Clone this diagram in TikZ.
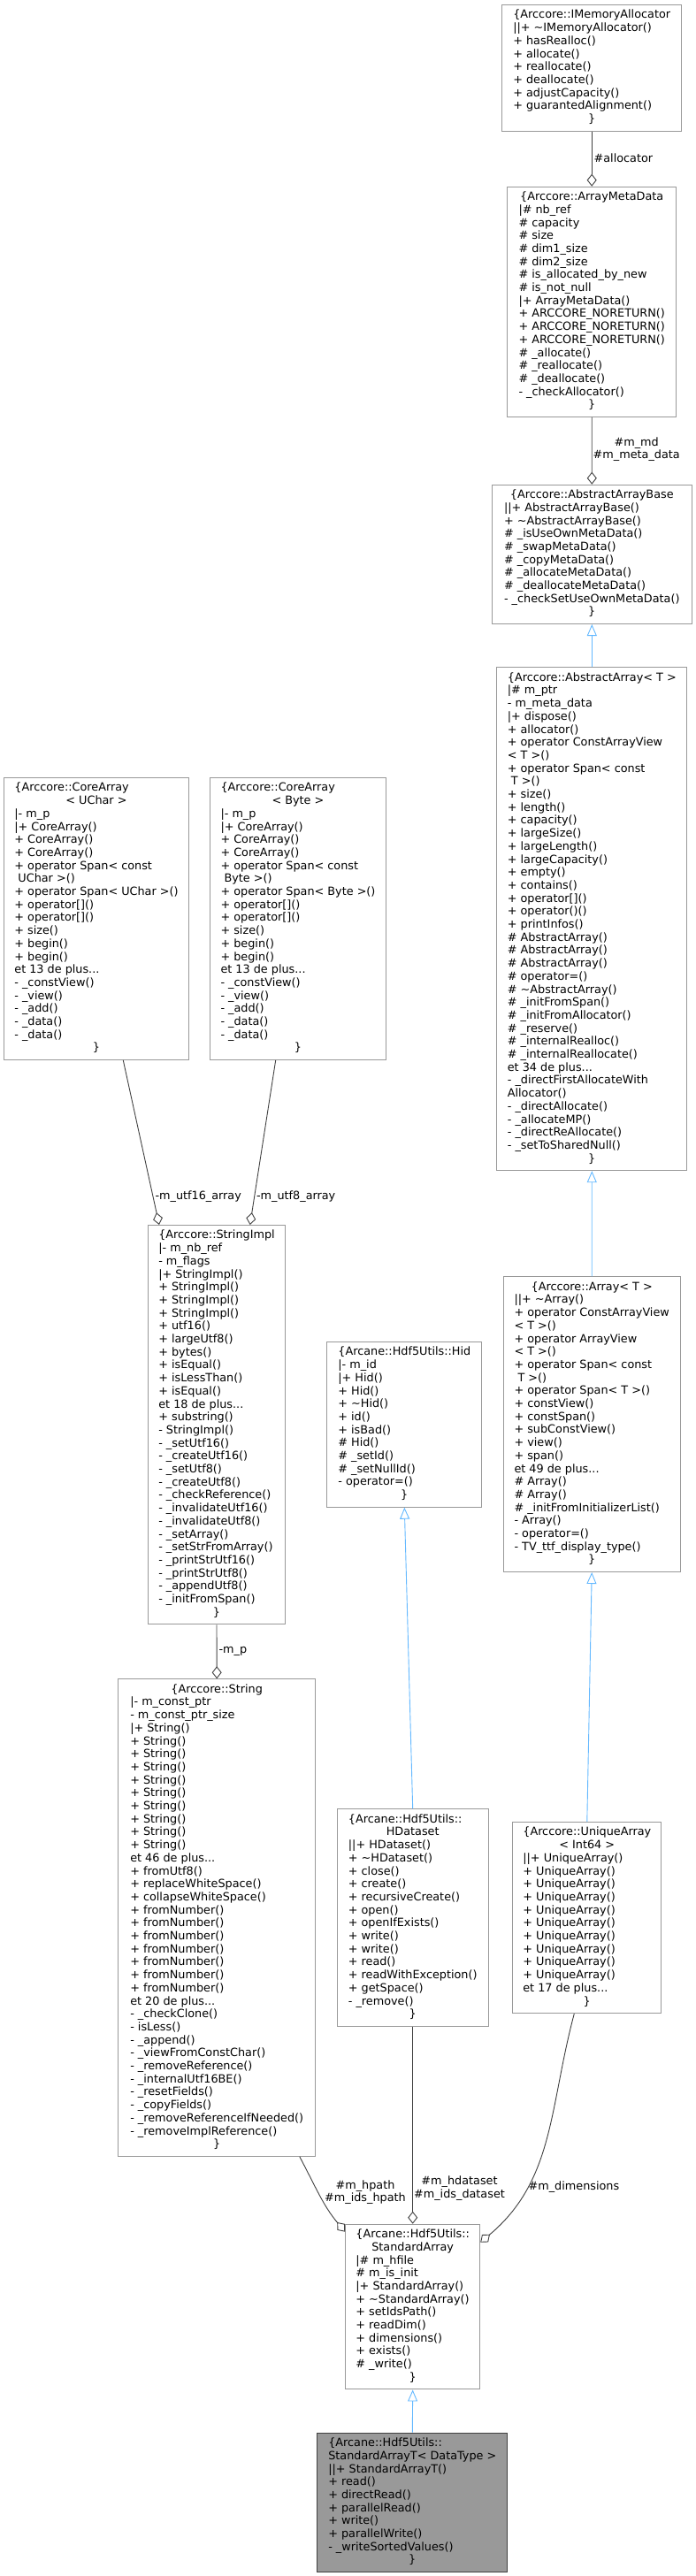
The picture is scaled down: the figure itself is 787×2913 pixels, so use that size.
\documentclass[tikz,border=0pt]{standalone}
\usepackage{fontspec}
\setmainfont{DejaVu Sans}
\usetikzlibrary{arrows.meta}

\definecolor{edgegrey}{HTML}{404040}
\definecolor{boxgrey}{HTML}{999999}
\definecolor{inhblue}{HTML}{63B8FF}

% centered line and member list of a class box
\newcommand{\ctr}[1]{\multicolumn{1}{@{}c@{}}{#1}}
\newcommand{\members}[1]{\begin{tabular}{@{}l@{}}#1\end{tabular}}

\tikzset{
  cls/.style={draw=boxgrey, line width=1pt, fill=white, anchor=north,
    inner xsep=8pt, inner ysep=5.15pt, font=\fontsize{12.8}{14.7}\selectfont},
  current/.style={cls, fill=boxgrey, draw=edgegrey},
  uses/.style={draw=edgegrey, line width=0.9pt, -{Diamond[open,length=14pt,width=11pt]}},
  inherits/.style={draw=inhblue, line width=0.9pt, -{Triangle[open,length=13pt,width=11pt]}},
  lbl/.style={font=\fontsize{12.8}{14.7}\selectfont, inner sep=2pt, align=center},
}

\begin{document}
\begin{tikzpicture}[x=1pt, y=-1pt]
\useasboundingbox (0,0) rectangle (787,2913);

% Arccore array classes
\node[cls, minimum width=203pt] (mem) at (669.2,5) {\members{%
  \ctr{\{Arccore::IMemoryAllocator}\\
  ||+ \textasciitilde IMemoryAllocator()\\
  + hasRealloc()\\
  + allocate()\\
  + reallocate()\\
  + deallocate()\\
  + adjustCapacity()\\
  + guarantedAlignment()\\
  \ctr{\}}}};
\node[cls, minimum width=191pt] (meta) at (669.2,210.7) {\members{%
  \ctr{\{Arccore::ArrayMetaData}\\
  |\# nb\_ref\\
  \# capacity\\
  \# size\\
  \# dim1\_size\\
  \# dim2\_size\\
  \# is\_allocated\_by\_new\\
  \# is\_not\_null\\
  |+ ArrayMetaData()\\
  + ARCCORE\_NORETURN()\\
  + ARCCORE\_NORETURN()\\
  + ARCCORE\_NORETURN()\\
  \# \_allocate()\\
  \# \_reallocate()\\
  \# \_deallocate()\\
  - \_checkAllocator()\\
  \ctr{\}}}};
\node[cls, minimum width=226pt] (base) at (669.3,547.7) {\members{%
  \ctr{\{Arccore::AbstractArrayBase}\\
  ||+ AbstractArrayBase()\\
  + \textasciitilde AbstractArrayBase()\\
  \# \_isUseOwnMetaData()\\
  \# \_swapMetaData()\\
  \# \_copyMetaData()\\
  \# \_allocateMetaData()\\
  \# \_deallocateMetaData()\\
  - \_checkSetUseOwnMetaData()\\
  \ctr{\}}}};
\node[cls, minimum width=215.3pt] (absarr) at (669.3,754.3) {\members{%
  \ctr{\{Arccore::AbstractArray< T >}\\
  |\# m\_ptr\\
  - m\_meta\_data\\
  |+ dispose()\\
  + allocator()\\
  + operator ConstArrayView\\
  < T >()\\
  + operator Span< const\\
  \ T >()\\
  + size()\\
  + length()\\
  + capacity()\\
  + largeSize()\\
  + largeLength()\\
  + largeCapacity()\\
  + empty()\\
  + contains()\\
  + operator[]()\\
  + operator()()\\
  + printInfos()\\
  \# AbstractArray()\\
  \# AbstractArray()\\
  \# AbstractArray()\\
  \# operator=()\\
  \# \textasciitilde AbstractArray()\\
  \# \_initFromSpan()\\
  \# \_initFromAllocator()\\
  \# \_reserve()\\
  \# \_internalRealloc()\\
  \# \_internalReallocate()\\
  et 34 de plus...\\
  - \_directFirstAllocateWith\\
  Allocator()\\
  - \_directAllocate()\\
  - \_allocateMP()\\
  - \_directReAllocate()\\
  - \_setToSharedNull()\\
  \ctr{\}}}};
\node[cls, minimum width=200.3pt] (arr) at (669.2,1443.3) {\members{%
  \ctr{\{Arccore::Array< T >}\\
  ||+ \textasciitilde Array()\\
  + operator ConstArrayView\\
  < T >()\\
  + operator ArrayView\\
  < T >()\\
  + operator Span< const\\
  \ T >()\\
  + operator Span< T >()\\
  + constView()\\
  + constSpan()\\
  + subConstView()\\
  + view()\\
  + span()\\
  et 49 de plus...\\
  \# Array()\\
  \# Array()\\
  \# \_initFromInitializerList()\\
  - Array()\\
  - operator=()\\
  - TV\_ttf\_display\_type()\\
  \ctr{\}}}};
\node[cls, minimum width=168.3pt] (uniq) at (663.8,2060) {\members{%
  \{Arccore::UniqueArray\\
  \ctr{< Int64 >}\\
  ||+ UniqueArray()\\
  + UniqueArray()\\
  + UniqueArray()\\
  + UniqueArray()\\
  + UniqueArray()\\
  + UniqueArray()\\
  + UniqueArray()\\
  + UniqueArray()\\
  + UniqueArray()\\
  + UniqueArray()\\
  et 17 de plus...\\
  \ctr{\}}}};

% Arccore string classes
\node[cls, minimum width=208.6pt] (cauchar) at (109,879) {\members{%
  \{Arccore::CoreArray\\
  \ctr{< UChar >}\\
  |- m\_p\\
  |+ CoreArray()\\
  + CoreArray()\\
  + CoreArray()\\
  + operator Span< const\\
  \ UChar >()\\
  + operator Span< UChar >()\\
  + operator[]()\\
  + operator[]()\\
  + size()\\
  + begin()\\
  + begin()\\
  et 13 de plus...\\
  - \_constView()\\
  - \_view()\\
  - \_add()\\
  - \_data()\\
  - \_data()\\
  \ctr{\}}}};
\node[cls, minimum width=199.4pt] (cabyte) at (337,879) {\members{%
  \{Arccore::CoreArray\\
  \ctr{< Byte >}\\
  |- m\_p\\
  |+ CoreArray()\\
  + CoreArray()\\
  + CoreArray()\\
  + operator Span< const\\
  \ Byte >()\\
  + operator Span< Byte >()\\
  + operator[]()\\
  + operator[]()\\
  + size()\\
  + begin()\\
  + begin()\\
  et 13 de plus...\\
  - \_constView()\\
  - \_view()\\
  - \_add()\\
  - \_data()\\
  - \_data()\\
  \ctr{\}}}};
\node[cls, minimum width=155.4pt] (simpl) at (245,1385) {\members{%
  \ctr{\{Arccore::StringImpl}\\
  |- m\_nb\_ref\\
  - m\_flags\\
  |+ StringImpl()\\
  + StringImpl()\\
  + StringImpl()\\
  + StringImpl()\\
  + utf16()\\
  + largeUtf8()\\
  + bytes()\\
  + isEqual()\\
  + isLessThan()\\
  + isEqual()\\
  et 18 de plus...\\
  + substring()\\
  - StringImpl()\\
  - \_setUtf16()\\
  - \_createUtf16()\\
  - \_setUtf8()\\
  - \_createUtf8()\\
  - \_checkReference()\\
  - \_invalidateUtf16()\\
  - \_invalidateUtf8()\\
  - \_setArray()\\
  - \_setStrFromArray()\\
  - \_printStrUtf16()\\
  - \_printStrUtf8()\\
  - \_appendUtf8()\\
  - \_initFromSpan()\\
  \ctr{\}}}};
\node[cls, minimum width=223pt] (str) at (245.2,1898.3) {\members{%
  \ctr{\{Arccore::String}\\
  |- m\_const\_ptr\\
  - m\_const\_ptr\_size\\
  |+ String()\\
  + String()\\
  + String()\\
  + String()\\
  + String()\\
  + String()\\
  + String()\\
  + String()\\
  + String()\\
  + String()\\
  et 46 de plus...\\
  + fromUtf8()\\
  + replaceWhiteSpace()\\
  + collapseWhiteSpace()\\
  + fromNumber()\\
  + fromNumber()\\
  + fromNumber()\\
  + fromNumber()\\
  + fromNumber()\\
  + fromNumber()\\
  + fromNumber()\\
  et 20 de plus...\\
  - \_checkClone()\\
  - isLess()\\
  - \_append()\\
  - \_viewFromConstChar()\\
  - \_removeReference()\\
  - \_internalUtf16BE()\\
  - \_resetFields()\\
  - \_copyFields()\\
  - \_removeReferenceIfNeeded()\\
  - \_removeImplReference()\\
  \ctr{\}}}};

% Hdf5 classes
\node[cls, minimum width=174.7pt] (hid) at (457.3,1517) {\members{%
  \ctr{\{Arcane::Hdf5Utils::Hid}\\
  |- m\_id\\
  |+ Hid()\\
  + Hid()\\
  + \textasciitilde Hid()\\
  + id()\\
  + isBad()\\
  \# Hid()\\
  \# \_setId()\\
  \# \_setNullId()\\
  - operator=()\\
  \ctr{\}}}};
\node[cls, minimum width=170.7pt] (hds) at (466.7,2045.3) {\members{%
  \{Arcane::Hdf5Utils::\\
  \ctr{HDataset}\\
  ||+ HDataset()\\
  + \textasciitilde HDataset()\\
  + close()\\
  + create()\\
  + recursiveCreate()\\
  + open()\\
  + openIfExists()\\
  + write()\\
  + write()\\
  + read()\\
  + readWithException()\\
  + getSpace()\\
  - \_remove()\\
  \ctr{\}}}};
\node[cls, minimum width=152pt] (sarr) at (466.7,2514.7) {\members{%
  \{Arcane::Hdf5Utils::\\
  \ctr{StandardArray}\\
  |\# m\_hfile\\
  \# m\_is\_init\\
  |+ StandardArray()\\
  + \textasciitilde StandardArray()\\
  + setIdsPath()\\
  + readDim()\\
  + dimensions()\\
  + exists()\\
  \# \_write()\\
  \ctr{\}}}};
\node[current, minimum width=215.3pt] (sarrt) at (466.3,2750.7) {\members{%
  \{Arcane::Hdf5Utils::\\
  \ctr{StandardArrayT< DataType >}\\
  ||+ StandardArrayT()\\
  + read()\\
  + directRead()\\
  + parallelRead()\\
  + write()\\
  + parallelWrite()\\
  - \_writeSortedValues()\\
  \ctr{\}}}};

% inheritance
\draw[inherits] (absarr.north) -- (base.south);
\draw[inherits] (arr.north) -- (absarr.south);
\draw[inherits] (uniq.north) -- (arr.south);
\draw[inherits] (hds.north) -- (hid.south);
\draw[inherits] (sarrt.north) -- (sarr.south);

% members
\draw[uses] (mem.south) -- (meta.north) node[lbl, pos=0.48, anchor=west] {\#allocator};
\draw[uses] (meta.south) -- (base.north) node[lbl, pos=0.48, anchor=west, inner sep=1pt] {\#m\_md\\\#m\_meta\_data};
\draw[uses] ([xshift=30.3pt]cauchar.south) -- ([xshift=-65pt]simpl.north) node[lbl, pos=0.83, anchor=west] {-m\_utf16\_array};
\draw[uses] ([xshift=-25.3pt]cabyte.south) -- ([xshift=37.7pt]simpl.north) node[lbl, pos=0.83, anchor=west] {-m\_utf8\_array};
\draw[uses] (simpl.south) -- (str.north) node[lbl, pos=0.5, anchor=west] {-m\_p};
\draw[uses] ([xshift=-18.4pt]str.south east) to[out=-62, in=130] node[lbl, pos=0.45, anchor=west, xshift=5pt] {\#m\_hpath\\\#m\_ids\_hpath} ([yshift=-9pt]sarr.north west);
\draw[uses] (hds.south) -- (sarr.north) node[lbl, pos=0.82, anchor=west, inner sep=1pt] {\#m\_hdataset\\\#m\_ids\_dataset};
\draw[uses] ([xshift=-14.5pt]uniq.south) to[out=-105, in=40] node[lbl, pos=0.72, anchor=west] {\#m\_dimensions} ([yshift=-21pt]sarr.north east);
\end{tikzpicture}
\end{document}
